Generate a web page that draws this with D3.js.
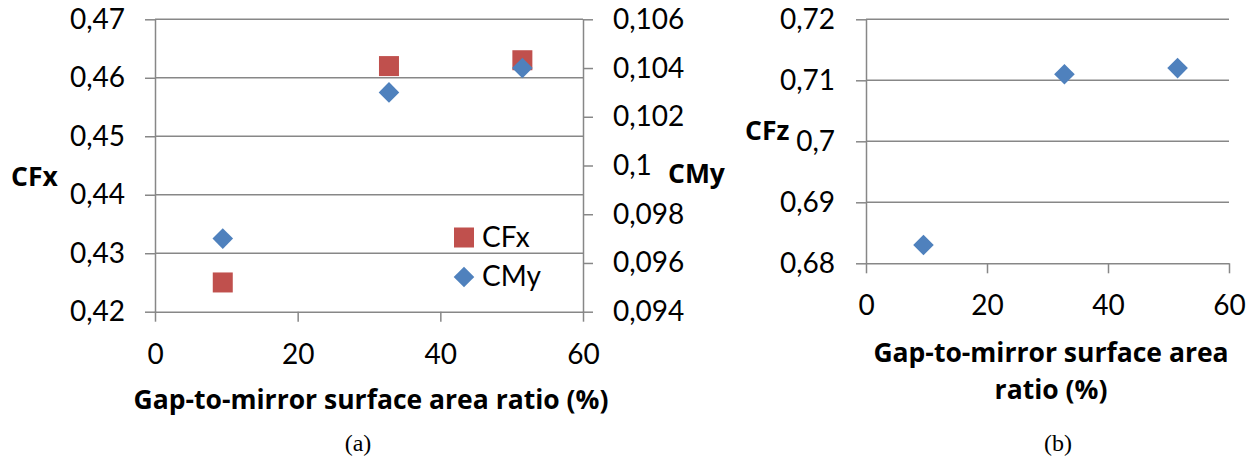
<!DOCTYPE html>
<html>
<head>
<meta charset="utf-8">
<script src="https://cdn.jsdelivr.net/npm/d3@7"></script>
<style>
  body { margin: 0; background: #fff; }
  svg { display: block; font-family: Lato, "Open Sans", sans-serif; }
  .tick text { fill: #000; }
  .ttl { font-family: "Open Sans", Lato, sans-serif; font-weight: bold; }
</style>
</head>
<body>
<svg id="chart" width="1257" height="461"></svg>
<script>
// data
const gapRatio = [9.5, 32.8, 51.5];      // x, %
const cfx = [0.425, 0.462, 0.463];       // (a) left axis
const cmy = [0.097, 0.103, 0.104];       // (a) right axis
const cfz = [0.683, 0.711, 0.712];       // (b)

const xTicks = [0, 20, 40, 60];
const cfxTicks = [0.42, 0.43, 0.44, 0.45, 0.46, 0.47];
const cmyTicks = [0.094, 0.096, 0.098, 0.1, 0.102, 0.104, 0.106];
const cfzTicks = [0.68, 0.69, 0.7, 0.71, 0.72];

const seriesNames = ["CFx", "CMy"];

const RED = "#c0504d", BLUE = "#4f81bd", GRID = "#878787";
const TICK_FONT = 28, TITLE_FONT = 26.5;
const SERIF = "'Liberation Serif', 'Times New Roman', serif";

const locale = d3.formatLocale({ decimal: ",", thousands: ".", grouping: [3], currency: ["", ""] });
const fmt = locale.format(".3~f");

const svg = d3.select("#chart");

// marker helpers
function square(g, x, y, color) {
    g.append("rect")
        .attr("x", x - 10).attr("y", y - 10)
        .attr("width", 20).attr("height", 20)
        .attr("fill", color);
}
function diamond(g, x, y, color) {
    g.append("path")
        .attr("d", d3.symbol(d3.symbolSquare, 212)())
        .attr("transform", `translate(${x},${y}) rotate(45)`)
        .attr("fill", color);
}

function styleAxis(g) {
    g.selectAll("path, line").attr("stroke", GRID).attr("stroke-width", 1.5);
    g.selectAll("text").attr("font-size", TICK_FONT).attr("font-family", "Lato, sans-serif");
}

// ---------- (a) ----------
const a = { left: 155, right: 583, top: 19.3, bottom: 311.7 };
const xa = d3.scaleLinear().domain([0, 60]).range([a.left, a.right]);
const ya = d3.scaleLinear().domain([0.42, 0.47]).range([a.bottom, a.top]);
const ya2 = d3.scaleLinear().domain([0.094, 0.106]).range([a.bottom, a.top]);

const ga = svg.append("g");

// gridlines
ga.append("g")
    .selectAll("line")
    .data(cfxTicks.slice(1))
    .join("line")
    .attr("x1", a.left).attr("x2", a.right)
    .attr("y1", d => ya(d)).attr("y2", d => ya(d))
    .attr("stroke", GRID).attr("stroke-width", 1.5);

ga.append("g")
    .attr("transform", `translate(${a.left},0)`)
    .call(d3.axisLeft(ya).tickValues(cfxTicks).tickFormat(fmt).tickSize(10).tickSizeOuter(0).tickPadding(20))
    .call(styleAxis);

ga.append("g")
    .attr("transform", `translate(${a.right},0)`)
    .call(d3.axisRight(ya2).tickValues(cmyTicks).tickFormat(fmt).tickSize(10).tickSizeOuter(0).tickPadding(20))
    .call(styleAxis);

ga.append("g")
    .attr("transform", `translate(0,${a.bottom})`)
    .call(d3.axisBottom(xa).tickValues(xTicks).tickSize(10).tickSizeOuter(0).tickPadding(22))
    .call(styleAxis);

const pa = ga.append("g");
gapRatio.forEach((x, i) => square(pa, xa(x), ya(cfx[i]), RED));
gapRatio.forEach((x, i) => diamond(pa, xa(x), ya2(cmy[i]), BLUE));

// legend
const lg = ga.append("g").attr("font-size", TICK_FONT);
seriesNames.forEach((name, i) => {
    const cy = 237.5 + i * 39.5;
    if (i === 0) square(lg, 464, cy, RED); else diamond(lg, 464, cy, BLUE);
    lg.append("text").attr("x", 482).attr("y", cy + 9).text(name);
});

// axis titles
ga.append("text").attr("class", "ttl").attr("x", 11).attr("y", 186)
    .attr("font-size", TITLE_FONT).text("CFx");
ga.append("text").attr("class", "ttl").attr("x", 668).attr("y", 183)
    .attr("font-size", TITLE_FONT).text("CMy");
ga.append("text").attr("class", "ttl").attr("x", 371).attr("y", 409).attr("text-anchor", "middle")
    .attr("font-size", TITLE_FONT)
    .text("Gap-to-mirror surface area ratio (%)");
ga.append("text").attr("x", 358).attr("y", 451).attr("text-anchor", "middle")
    .attr("font-family", SERIF).attr("font-size", 24)
    .text("(a)");

// ---------- (b) ----------
const b = { left: 866, right: 1229, top: 19.3, bottom: 263.3 };
const xb = d3.scaleLinear().domain([0, 60]).range([b.left, b.right]);
const yb = d3.scaleLinear().domain([0.68, 0.72]).range([b.bottom, b.top]);

const gb = svg.append("g");

gb.append("g")
    .selectAll("line")
    .data(cfzTicks.slice(1))
    .join("line")
    .attr("x1", b.left).attr("x2", b.right)
    .attr("y1", d => yb(d)).attr("y2", d => yb(d))
    .attr("stroke", GRID).attr("stroke-width", 1.5);

gb.append("g")
    .attr("transform", `translate(${b.left},0)`)
    .call(d3.axisLeft(yb).tickValues(cfzTicks).tickFormat(fmt).tickSize(10).tickSizeOuter(0).tickPadding(21))
    .call(styleAxis);

gb.append("g")
    .attr("transform", `translate(0,${b.bottom})`)
    .call(d3.axisBottom(xb).tickValues(xTicks).tickSize(10).tickSizeOuter(0).tickPadding(22))
    .call(styleAxis);

const pb = gb.append("g");
gapRatio.forEach((x, i) => diamond(pb, xb(x), yb(cfz[i]), BLUE));

gb.append("text").attr("class", "ttl").attr("x", 745).attr("y", 140)
    .attr("font-size", TITLE_FONT).text("CFz");
gb.append("text").attr("class", "ttl").attr("text-anchor", "middle").attr("font-size", TITLE_FONT)
    .selectAll("tspan")
    .data(["Gap-to-mirror surface area", "ratio (%)"])
    .join("tspan")
    .attr("x", 1051)
    .attr("y", (d, i) => 362 + i * 37)
    .text(d => d);
gb.append("text").attr("x", 1058).attr("y", 451).attr("text-anchor", "middle")
    .attr("font-family", SERIF).attr("font-size", 24)
    .text("(b)");
</script>
</body>
</html>
